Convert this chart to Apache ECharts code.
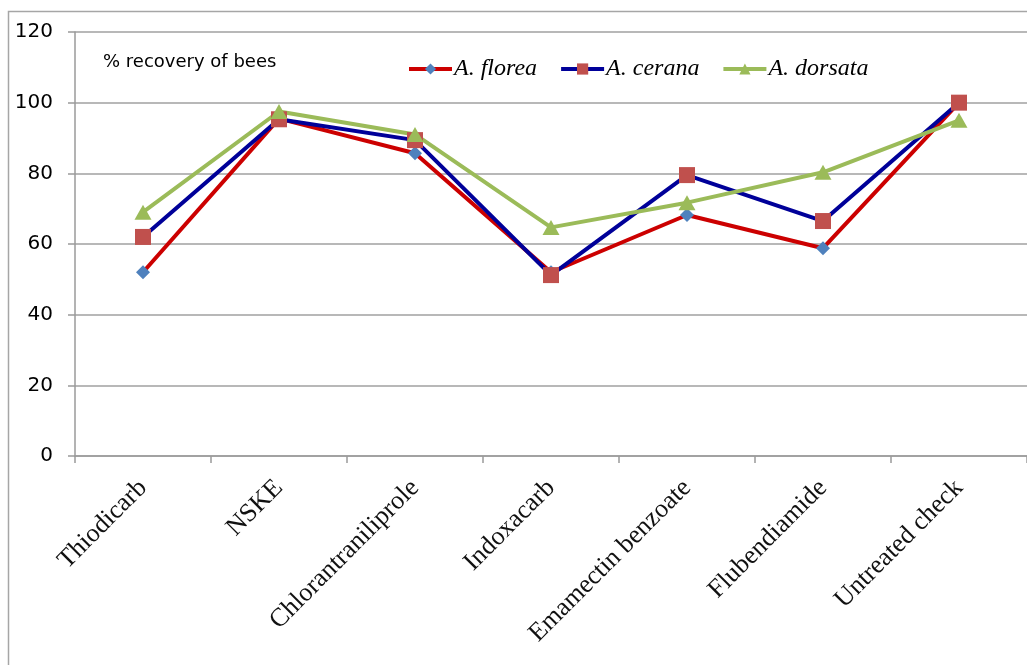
<!DOCTYPE html>
<html>
<head>
<meta charset="utf-8">
<script src="https://cdn.jsdelivr.net/npm/echarts@6/dist/echarts.min.js"></script>
<style>
html,body{margin:0;padding:0;background:#fff;}
#chart{width:1027px;height:665px;}
</style>
</head>
<body>
<div id="chart"></div>
<script>
var categories = ['Thiodicarb', 'NSKE', 'Chlorantraniliprole', 'Indoxacarb', 'Emamectin benzoate', 'Flubendiamide', 'Untreated check'];
var floreaValues = [52, 95.5, 85.7, 52, 68.2, 58.8, 100];
var ceranaValues = [62, 95.3, 89.4, 51.2, 79.5, 66.5, 100];
var dorsataValues = [69, 97.5, 91, 64.7, 71.7, 80.3, 95];
var yTicks = [0, 20, 40, 60, 80, 100, 120];

var chart = echarts.init(document.getElementById('chart'));
chart.setOption({
  animation: false,
  backgroundColor: '#fff',
  graphic: [{
    type: 'rect',
    shape: {x: 8.5, y: 11.5, width: 1100, height: 700},
    style: {fill: 'none', stroke: '#a6a6a6', lineWidth: 1.5},
    silent: true,
    z: -1
  }],
  title: {
    text: '% recovery of bees',
    left: 98,
    top: 48,
    textStyle: {fontFamily: 'DejaVu Sans', fontSize: 18, fontWeight: 'normal', color: '#000'}
  },
  legend: {
    top: 52,
    left: 402,
    itemWidth: 43,
    itemHeight: 14,
    itemGap: 22,
    lineStyle: {width: 4},
    textStyle: {fontFamily: 'Liberation Serif', fontStyle: 'italic', fontSize: 24, color: '#000', padding: [0, 0, 0, -3]},
    data: ['A. florea', 'A. cerana', 'A. dorsata']
  },
  grid: {left: 75, right: 0, top: 32, bottom: 209, containLabel: false},
  xAxis: {
    type: 'category',
    data: categories,
    boundaryGap: true,
    axisLine: {lineStyle: {color: '#9a9a9a', width: 1.5}},
    axisTick: {show: true, length: 7, lineStyle: {color: '#9a9a9a', width: 1.5}},
    axisLabel: {rotate: 45, margin: 28, fontFamily: 'Liberation Serif', fontSize: 26, color: '#111', interval: 0}
  },
  yAxis: {
    type: 'value',
    min: yTicks[0],
    max: yTicks[yTicks.length - 1],
    interval: 20,
    axisLine: {show: true, lineStyle: {color: '#9a9a9a', width: 1.5}},
    axisTick: {show: true, length: 7, lineStyle: {color: '#9a9a9a', width: 1.5}},
    axisLabel: {margin: 22, fontFamily: 'DejaVu Sans', fontSize: 20, color: '#000'},
    splitLine: {lineStyle: {color: '#a0a0a0', width: 1.5}}
  },
  series: [
    {
      name: 'A. florea',
      type: 'line',
      data: floreaValues,
      symbol: 'diamond',
      symbolSize: 14,
      lineStyle: {color: '#cc0000', width: 4},
      itemStyle: {color: '#4f81bd'}
    },
    {
      name: 'A. cerana',
      type: 'line',
      data: ceranaValues,
      symbol: 'rect',
      symbolSize: 16,
      lineStyle: {color: '#000099', width: 4},
      itemStyle: {color: '#c0504d'}
    },
    {
      name: 'A. dorsata',
      type: 'line',
      data: dorsataValues,
      symbol: 'triangle',
      symbolSize: [17, 15],
      lineStyle: {color: '#9bbb59', width: 4},
      itemStyle: {color: '#9bbb59'}
    }
  ]
});
</script>
</body>
</html>
